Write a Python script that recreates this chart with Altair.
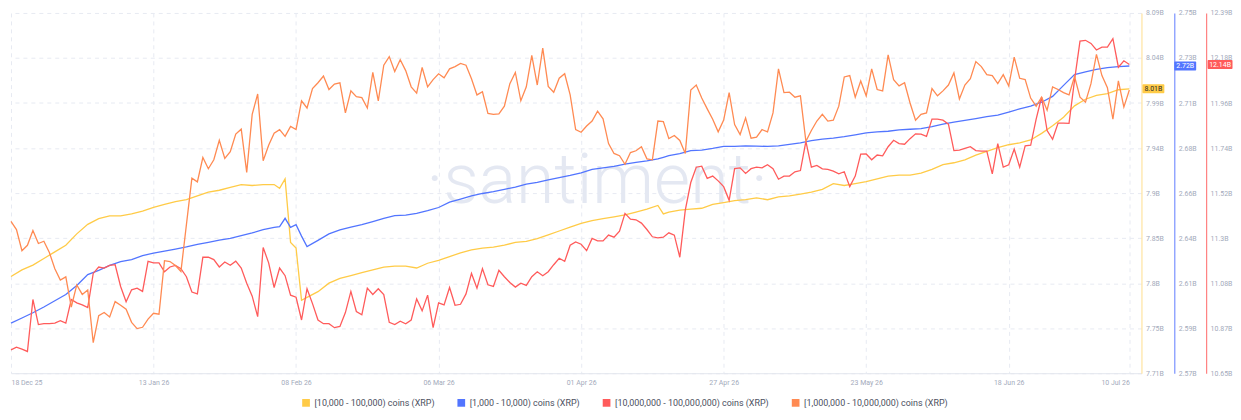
import altair as alt
import pandas as pd

# ---------------- data ----------------
start_date = pd.Timestamp("2025-12-18")

# [10,000,000 - 100,000,000) coins, daily, 18 Dec 2025 .. 10 Jul 2026 (billions of XRP)
red_values = [
    10.763, 10.776, 10.766, 10.755, 11.006, 10.885, 10.889, 10.889, 10.892, 10.904,
    10.892, 11.006, 10.990, 10.980, 10.967, 11.132, 11.163, 11.158, 11.171, 11.174,
    11.069, 10.995, 11.053, 11.061, 11.045, 11.190, 11.183, 11.183, 11.140, 11.163,
    11.171, 11.155, 11.116, 11.042, 11.033, 11.210, 11.210, 11.199, 11.163, 11.187,
    11.171, 11.191, 11.158, 11.085, 11.022, 10.923, 11.257, 11.183, 11.064, 11.158,
    11.121, 11.027, 11.017, 10.907, 11.058, 10.986, 10.907, 10.889, 10.889, 10.870,
    10.876, 10.943, 11.045, 10.948, 10.932, 11.061, 11.030, 11.058, 11.030, 10.896,
    10.885, 10.901, 10.889, 10.907, 11.009, 10.951, 11.027, 10.870, 10.990, 10.980,
    11.064, 10.978, 10.983, 11.033, 11.132, 11.061, 11.155, 11.077, 11.069, 11.147,
    11.116, 11.088, 11.066, 11.085, 11.074, 11.116, 11.140, 11.121, 11.140, 11.174,
    11.205, 11.190, 11.268, 11.284, 11.273, 11.242, 11.301, 11.289, 11.289, 11.317,
    11.307, 11.336, 11.422, 11.394, 11.391, 11.375, 11.344, 11.309, 11.304, 11.307,
    11.328, 11.317, 11.210, 11.438, 11.571, 11.645, 11.650, 11.591, 11.602, 11.579,
    11.551, 11.485, 11.638, 11.642, 11.615, 11.638, 11.645, 11.642, 11.657, 11.638,
    11.587, 11.602, 11.602, 11.623, 11.629, 11.770, 11.645, 11.654, 11.637, 11.635,
    11.626, 11.613, 11.623, 11.551, 11.602, 11.708, 11.709, 11.681, 11.704, 11.700,
    11.744, 11.775, 11.759, 11.756, 11.783, 11.806, 11.805, 11.794, 11.877, 11.877,
    11.872, 11.853, 11.725, 11.728, 11.736, 11.744, 11.725, 11.723, 11.723, 11.613,
    11.759, 11.645, 11.657, 11.733, 11.645, 11.748, 11.751, 11.877, 11.984, 11.822,
    11.780, 11.858, 11.858, 11.857, 12.065, 12.254, 12.258, 12.243, 12.211, 12.225,
    12.225, 12.266, 12.128, 12.159, 12.141,
]

# [1,000,000 - 10,000,000) coins, daily (its axis is hidden in the original)
orange_values = [
    7.137, 7.119, 7.072, 7.084, 7.117, 7.088, 7.093, 7.068, 7.032, 7.007,
    7.014, 6.947, 6.996, 6.975, 6.985, 6.868, 6.928, 6.935, 6.925, 6.959,
    6.951, 6.942, 6.913, 6.899, 6.902, 6.920, 6.933, 6.931, 7.050, 7.048,
    7.039, 7.026, 7.130, 7.233, 7.225, 7.279, 7.254, 7.274, 7.317, 7.277,
    7.292, 7.331, 7.342, 7.246, 7.375, 7.420, 7.272, 7.306, 7.333, 7.341,
    7.326, 7.348, 7.341, 7.405, 7.389, 7.432, 7.445, 7.460, 7.430, 7.442,
    7.445, 7.378, 7.427, 7.414, 7.412, 7.389, 7.468, 7.405, 7.484, 7.503,
    7.470, 7.496, 7.472, 7.436, 7.422, 7.479, 7.436, 7.452, 7.465, 7.456,
    7.476, 7.481, 7.488, 7.484, 7.454, 7.418, 7.425, 7.377, 7.375, 7.376,
    7.393, 7.443, 7.468, 7.405, 7.436, 7.506, 7.440, 7.522, 7.437, 7.424,
    7.455, 7.465, 7.418, 7.341, 7.335, 7.349, 7.360, 7.382, 7.365, 7.310,
    7.288, 7.283, 7.264, 7.290, 7.294, 7.303, 7.276, 7.274, 7.360, 7.359,
    7.321, 7.328, 7.317, 7.288, 7.429, 7.440, 7.411, 7.387, 7.364, 7.336,
    7.362, 7.423, 7.352, 7.330, 7.367, 7.322, 7.324, 7.341, 7.336, 7.378,
    7.476, 7.423, 7.424, 7.413, 7.416, 7.315, 7.339, 7.360, 7.375, 7.360,
    7.362, 7.393, 7.458, 7.461, 7.413, 7.449, 7.416, 7.476, 7.430, 7.427,
    7.507, 7.452, 7.438, 7.445, 7.400, 7.362, 7.375, 7.378, 7.432, 7.416,
    7.427, 7.440, 7.467, 7.409, 7.440, 7.454, 7.492, 7.481, 7.463, 7.461,
    7.443, 7.463, 7.438, 7.502, 7.455, 7.452, 7.411, 7.393, 7.413, 7.384,
    7.436, 7.430, 7.423, 7.418, 7.459, 7.413, 7.402, 7.443, 7.508, 7.461,
    7.434, 7.364, 7.449, 7.391, 7.429,
]

# smooth series are read every second day (plus the days around the early-Feb jump)
smooth_days = (list(range(0, 49, 2)) + [49, 50, 51, 52, 53, 54]
               + list(range(56, 119, 2)) + [119] + list(range(120, 205, 2)))

# [10,000 - 100,000) coins
yellow_values = [
    7.812, 7.819, 7.824, 7.831, 7.838, 7.845, 7.857, 7.867, 7.873, 7.876,
    7.876, 7.878, 7.881, 7.885, 7.888, 7.891, 7.893, 7.897, 7.901, 7.903,
    7.906, 7.909, 7.908, 7.909, 7.909,
    7.905, 7.915, 7.848, 7.842, 7.787, 7.790,
    7.796, 7.805, 7.810, 7.813, 7.816, 7.819, 7.822, 7.823, 7.823, 7.821,
    7.826, 7.829, 7.833, 7.837, 7.840, 7.842, 7.843, 7.845, 7.848, 7.849,
    7.852, 7.856, 7.860, 7.864, 7.868, 7.871, 7.873, 7.875, 7.877, 7.880,
    7.883, 7.887,
    7.878,
    7.880, 7.882, 7.883, 7.884, 7.888, 7.890, 7.892, 7.893, 7.895, 7.893,
    7.896, 7.897, 7.899, 7.901, 7.904, 7.910, 7.908, 7.910, 7.912, 7.915,
    7.918, 7.919, 7.919, 7.921, 7.925, 7.930, 7.932, 7.935, 7.940, 7.944,
    7.948, 7.951, 7.953, 7.956, 7.963, 7.971, 7.980, 7.992, 7.999, 8.003,
    8.005, 8.009, 8.010,
]

# [1,000 - 10,000) coins
blue_values = [
    2.5950, 2.5976, 2.6002, 2.6031, 2.6062, 2.6093, 2.6138, 2.6193, 2.6214, 2.6239,
    2.6258, 2.6268, 2.6288, 2.6300, 2.6310, 2.6320, 2.6331, 2.6344, 2.6354, 2.6365,
    2.6374, 2.6387, 2.6401, 2.6417, 2.6429,
    2.6432, 2.6474, 2.6429, 2.6442, 2.6385, 2.6333,
    2.6364, 2.6396, 2.6416, 2.6430, 2.6442, 2.6458, 2.6474, 2.6487, 2.6490, 2.6499,
    2.6512, 2.6528, 2.6555, 2.6570, 2.6586, 2.6598, 2.6607, 2.6619, 2.6630, 2.6645,
    2.6653, 2.6666, 2.6677, 2.6688, 2.6701, 2.6718, 2.6726, 2.6734, 2.6745, 2.6753,
    2.6761, 2.6771,
    2.6779,
    2.6787, 2.6797, 2.6812, 2.6815, 2.6823, 2.6833, 2.6833, 2.6836, 2.6835, 2.6833,
    2.6836, 2.6843, 2.6851, 2.6862, 2.6870, 2.6875, 2.6882, 2.6891, 2.6901, 2.6906,
    2.6909, 2.6916, 2.6919, 2.6922, 2.6932, 2.6945, 2.6955, 2.6963, 2.6972, 2.6982,
    2.6990, 2.7005, 2.7021, 2.7034, 2.7054, 2.7083, 2.7138, 2.7192, 2.7206, 2.7218,
    2.7227, 2.7232, 2.7235,
]

series_names = [
    "[10,000 - 100,000) coins (XRP)",
    "[1,000 - 10,000) coins (XRP)",
    "[10,000,000 - 100,000,000) coins (XRP)",
    "[1,000,000 - 10,000,000) coins (XRP)",
]
series_colors = ["#FFCB47", "#5275FF", "#FF5B5B", "#FF8A52"]

x_tick_dates = [(2025, 12, 18), (2026, 1, 13), (2026, 2, 8), (2026, 3, 6), (2026, 4, 1),
                (2026, 4, 27), (2026, 5, 23), (2026, 6, 18), (2026, 7, 10)]

yellow_tick_labels = ["7.71B", "7.75B", "7.8B", "7.85B", "7.9B", "7.94B", "7.99B", "8.04B", "8.09B"]
blue_tick_labels = ["2.57B", "2.59B", "2.61B", "2.64B", "2.66B", "2.68B", "2.71B", "2.73B", "2.75B"]
red_tick_labels = ["10.65B", "10.87B", "11.08B", "11.3B", "11.52B", "11.74B", "11.96B", "12.18B", "12.39B"]

yellow_domain = [7.71, 8.09]
blue_domain = [2.57, 2.75]
red_domain = [10.65, 12.39]
orange_domain = [6.80, 7.60]

# ---------------- build tables ----------------
daily_dates = [start_date + pd.Timedelta(days=i) for i in range(len(red_values))]
smooth_dates = [start_date + pd.Timedelta(days=d) for d in smooth_days]

df_yellow = pd.DataFrame({"date": smooth_dates, "value": yellow_values, "series": series_names[0]})
df_blue = pd.DataFrame({"date": smooth_dates, "value": blue_values, "series": series_names[1]})
df_red = pd.DataFrame({"date": daily_dates, "value": red_values, "series": series_names[2]})
df_orange = pd.DataFrame({"date": daily_dates, "value": orange_values, "series": series_names[3]})

LABEL_FONT = "Roboto"
LABEL_COLOR = "#A3AABB"
GRID_COLOR = "#E7EAF2"

color_enc = alt.Color(
    "series:N",
    scale=alt.Scale(domain=series_names, range=series_colors),
    legend=alt.Legend(
        orient="none", legendX=292, legendY=387, direction="horizontal", title=None,
        symbolType="square", symbolSize=14, symbolStrokeWidth=4, labelFontSize=9,
        labelFont=LABEL_FONT, labelColor="#4B5060", columnPadding=16, labelOffset=4,
        labelLimit=400,
    ),
)

x_enc = alt.X(
    "date:T",
    scale=alt.Scale(domain=[alt.DateTime(year=2025, month=12, date=18),
                            alt.DateTime(year=2026, month=7, date=12, hours=5)]),
    axis=alt.Axis(
        values=[alt.DateTime(year=y, month=m, date=d) for (y, m, d) in x_tick_dates],
        format="%d %b %y", labelFlush=15, labelColor=LABEL_COLOR, labelFontSize=7,
        labelFont=LABEL_FONT, labelPadding=5, ticks=False, domainColor="#E3E6EE",
        grid=True, gridColor=GRID_COLOR, gridDash=[4, 4], title=None,
    ),
)


def label_expr(labels, lo, step):
    arr = "[" + ",".join("'" + s + "'" for s in labels) + "]"
    return arr + "[round((datum.value - " + str(lo) + ") / " + str(step) + ")]"


def y_axis(domain, labels, offset, domain_color, grid):
    step = (domain[1] - domain[0]) / 8
    vals = [round(domain[0] + i * step, 6) for i in range(9)]
    return alt.Axis(
        orient="right", offset=offset, values=vals,
        labelExpr=label_expr(labels, domain[0], step),
        labelColor=LABEL_COLOR, labelFontSize=7, labelFont=LABEL_FONT, labelPadding=4,
        ticks=False, domainColor=domain_color, domainWidth=1.2,
        grid=grid, gridColor=GRID_COLOR, gridDash=[4, 4], title=None,
    )


def scale_of(domain):
    return alt.Scale(domain=domain, nice=False, zero=False)


def line_layer(df, domain, axis):
    return alt.Chart(df).mark_line(strokeWidth=1.3).encode(
        x=x_enc,
        y=alt.Y("value:Q", scale=scale_of(domain), axis=axis),
        color=color_enc,
    )


yellow_line = line_layer(df_yellow, yellow_domain,
                         y_axis(yellow_domain, yellow_tick_labels, 0, "#FFE3A0", True))
blue_line = line_layer(df_blue, blue_domain,
                       y_axis(blue_domain, blue_tick_labels, 33, "#7A92FF", False))
red_line = line_layer(df_red, red_domain,
                      y_axis(red_domain, red_tick_labels, 65, "#FF8080", False))
orange_line = line_layer(df_orange, orange_domain, None)


def badge(values, domain, color, text_color, xc, w):
    last = values[-1]
    bdf = pd.DataFrame({"value": [last], "label": [f"{last:.2f}B"]})
    box = alt.Chart(bdf).mark_tick(orient="horizontal", size=w, thickness=9,
                                   color=color, opacity=1, cornerRadius=1).encode(
        x=alt.value(xc),
        y=alt.Y("value:Q", scale=scale_of(domain), axis=None),
    )
    txt = alt.Chart(bdf).mark_text(fontSize=7, font=LABEL_FONT, color=text_color,
                                   align="center", baseline="middle").encode(
        x=alt.value(xc),
        y=alt.Y("value:Q", scale=scale_of(domain), axis=None),
        text="label:N",
    )
    return [box, txt]


watermark = alt.Chart(pd.DataFrame({"t": ["·santiment·"]})).mark_text(
    fontSize=70, font=LABEL_FONT, fontWeight=300, color="#E4E8F2",
    align="center", baseline="alphabetic",
).encode(x=alt.value(589), y=alt.value(191), text="t:N")

layers = [watermark, yellow_line, blue_line, red_line, orange_line]
layers += badge(yellow_values, yellow_domain, "#FFCB47", "#2A2A2A", 1148, 22)
layers += badge(blue_values, blue_domain, "#5275FF", "#FFFFFF", 1180, 22)
layers += badge(red_values, red_domain, "#FF5B5B", "#FFFFFF", 1215, 25)

chart = (
    alt.layer(*layers)
    .resolve_scale(y="independent")
    .properties(width=1136, height=362,
                padding={"left": 0, "top": 0, "right": 0, "bottom": 0},
                background="#FFFFFF")
    .configure_view(stroke=None)
)

chart.save("out.html", embed_options={"renderer": "svg", "actions": False})
